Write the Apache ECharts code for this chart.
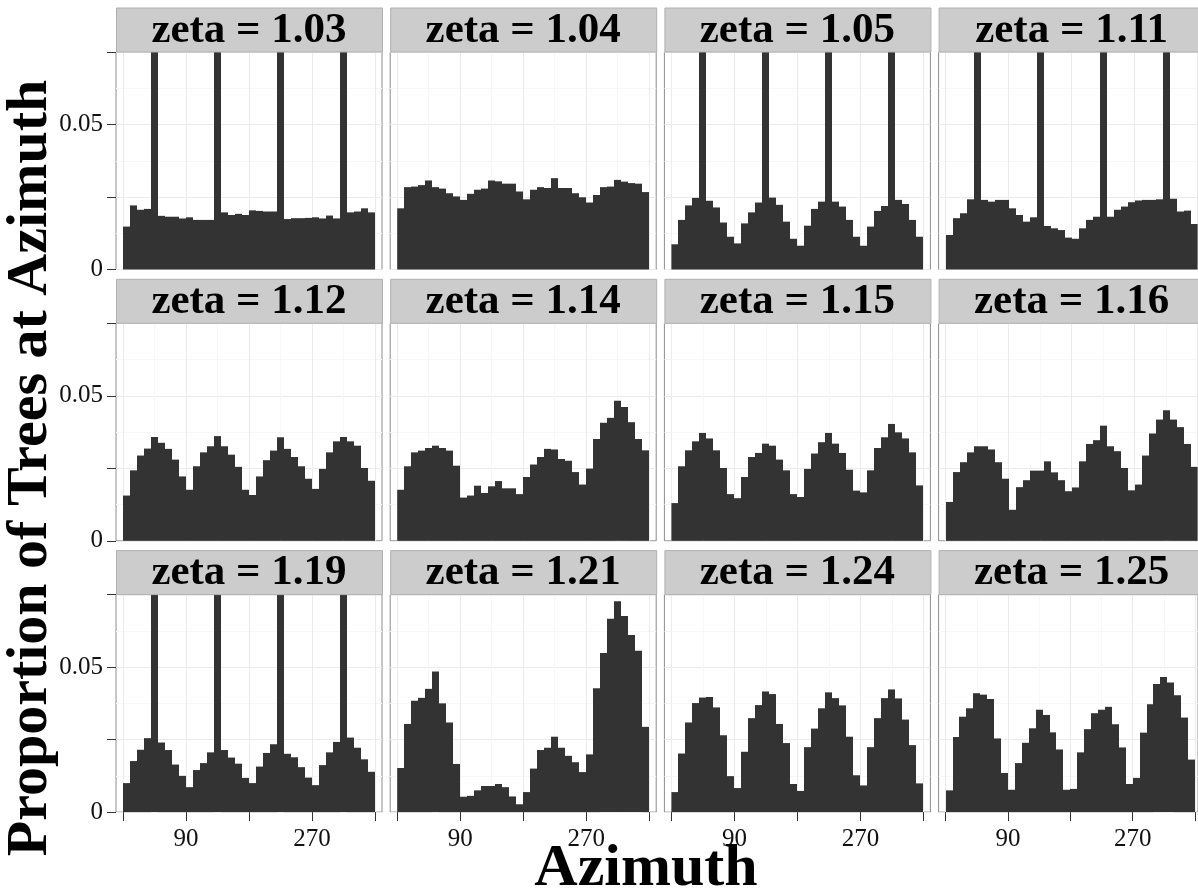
<!DOCTYPE html>
<html>
<head>
<meta charset="utf-8">
<script src="https://cdn.jsdelivr.net/npm/echarts@6/dist/echarts.min.js"></script>
<style>
html,body{margin:0;padding:0;background:#ffffff;}
#chart{width:1198px;height:894px;}
</style>
</head>
<body>
<div id="chart"></div>
<script>
// ---- data (proportion of trees per 10-degree azimuth bin, 36 bins from 0 to 360) ----
const zetaLabels = ['1.03','1.04','1.05','1.11','1.12','1.14','1.15','1.16','1.19','1.21','1.24','1.25'];
const binWidth = 10;
const xTickValues = [0, 90, 180, 270, 360];
const xLabelValues = [90, 270];
const yLabelValues = [0, 0.05];

const zeta103 = [0.0148,0.0221,0.0206,0.0209,0.1,0.0185,0.0182,0.0182,0.0176,0.018,0.0171,0.0171,0.0171,0.1,0.0197,0.0188,0.0192,0.0188,0.0204,0.0202,0.02,0.02,0.1,0.0174,0.0177,0.0177,0.0178,0.018,0.0176,0.0186,0.0176,0.1,0.0197,0.02,0.0211,0.0197];
const zeta104 = [0.0211,0.0284,0.0286,0.0291,0.0307,0.0284,0.0279,0.0263,0.0252,0.024,0.0261,0.0275,0.0279,0.0307,0.0304,0.0296,0.0296,0.0269,0.0242,0.0275,0.0284,0.0281,0.0315,0.0281,0.0281,0.0263,0.0249,0.0231,0.0257,0.0284,0.0286,0.0309,0.0303,0.0298,0.0296,0.0267];
const zeta105 = [0.0087,0.0171,0.0221,0.0247,0.1,0.0237,0.0214,0.0162,0.0113,0.009,0.0159,0.0197,0.0231,0.1,0.0248,0.0223,0.0165,0.0106,0.0082,0.0151,0.0209,0.0234,0.1,0.0234,0.0217,0.0171,0.0113,0.0082,0.0148,0.0202,0.0219,0.1,0.024,0.0226,0.0171,0.0113];
const zeta111 = [0.0119,0.0177,0.0194,0.0242,0.1,0.024,0.0234,0.024,0.024,0.0211,0.0188,0.0165,0.018,0.1,0.015,0.0142,0.0136,0.011,0.0106,0.0142,0.0171,0.0182,0.1,0.0182,0.0206,0.0217,0.0232,0.0238,0.024,0.024,0.0242,0.1,0.0244,0.02,0.0203,0.0157];
const zeta112 = [0.0156,0.0243,0.0294,0.0318,0.0358,0.0338,0.0317,0.028,0.0222,0.0176,0.0257,0.0305,0.0326,0.0361,0.0326,0.0297,0.0255,0.0176,0.0158,0.0222,0.0278,0.0311,0.0357,0.0317,0.0289,0.0257,0.0214,0.0179,0.0248,0.0305,0.0343,0.0358,0.0343,0.0328,0.0251,0.0207];
const zeta114 = [0.0176,0.0257,0.0305,0.0311,0.032,0.0328,0.032,0.0311,0.0259,0.0149,0.0156,0.019,0.0165,0.0188,0.0206,0.0181,0.0181,0.0161,0.022,0.0263,0.0289,0.0317,0.0315,0.0282,0.0276,0.0237,0.0194,0.0249,0.0351,0.0407,0.0424,0.0483,0.0461,0.0409,0.0351,0.0312];
const zeta115 = [0.013,0.0257,0.0312,0.0343,0.0372,0.0353,0.0312,0.0251,0.0161,0.0147,0.022,0.0289,0.0303,0.0335,0.0328,0.028,0.0243,0.0161,0.0151,0.0248,0.0301,0.034,0.0372,0.0335,0.0303,0.0245,0.0173,0.0167,0.0243,0.032,0.0357,0.0403,0.0374,0.0353,0.0305,0.0191];
const zeta116 = [0.0134,0.0237,0.0271,0.0305,0.0326,0.0326,0.0315,0.0271,0.0214,0.0107,0.0185,0.0209,0.0242,0.0242,0.0274,0.0236,0.0209,0.0171,0.0184,0.0274,0.0334,0.0347,0.0397,0.0326,0.0309,0.0251,0.0174,0.0194,0.0294,0.037,0.0418,0.045,0.0418,0.0392,0.0334,0.0255];
const zeta119 = [0.01,0.0176,0.0215,0.0255,0.1,0.024,0.0214,0.0164,0.0125,0.0086,0.0145,0.0169,0.0206,0.1,0.0214,0.0188,0.0167,0.0118,0.01,0.0157,0.0204,0.0234,0.1,0.0201,0.0189,0.0155,0.0119,0.0093,0.0162,0.0206,0.0242,0.1,0.0257,0.0222,0.0182,0.0139];
const zeta121 = [0.0152,0.0304,0.0384,0.0394,0.0425,0.0485,0.0375,0.0309,0.0166,0.0053,0.0056,0.0075,0.009,0.009,0.0097,0.0086,0.0054,0.0027,0.0069,0.015,0.0214,0.0222,0.026,0.0222,0.0194,0.0172,0.0138,0.0199,0.0427,0.0549,0.0667,0.0727,0.0676,0.0611,0.0556,0.0294];
const zeta124 = [0.0069,0.0202,0.0309,0.0376,0.0395,0.0397,0.0361,0.0265,0.0124,0.0083,0.0208,0.0324,0.0369,0.0416,0.0407,0.0304,0.0238,0.0097,0.0073,0.0224,0.0288,0.0358,0.0413,0.0393,0.0368,0.026,0.0127,0.0092,0.0224,0.0324,0.0393,0.0423,0.0392,0.0319,0.0231,0.0099];
const zeta125 = [0.0075,0.0259,0.0329,0.0358,0.041,0.0405,0.039,0.0254,0.0135,0.0077,0.0169,0.0239,0.0289,0.0353,0.0335,0.0275,0.0216,0.0077,0.008,0.0206,0.0286,0.0341,0.0353,0.0363,0.0303,0.0223,0.0097,0.0118,0.0274,0.0372,0.0442,0.0466,0.0447,0.0403,0.0326,0.0181];

const panelValues = [zeta103, zeta104, zeta105, zeta111, zeta112, zeta114, zeta115, zeta116, zeta119, zeta121, zeta124, zeta125];

// ---- layout ----
const FONT = "'Liberation Serif','Times New Roman',serif";
const LAY = {left0: 116, colStep: 274.2, width: 266, pad: 7, top0: 52, rowStep: 271.3, height: 217.5, stripH: 44.5};
const Y_MAX = 0.075;

const chart = echarts.init(document.getElementById('chart'), null, {renderer: 'canvas'});

function near(v, list) { return list.some(t => Math.abs(t - v) < 1e-9); }

function renderBar(params, api) {
  const x0 = api.value(0), x1 = api.value(1), v = api.value(2);
  const pTop = api.coord([x0, v]);
  const pBot = api.coord([x1, 0]);
  const xa = Math.round(pTop[0]), xb = Math.round(pBot[0]);
  const rect = echarts.graphic.clipRectByRect(
    {x: xa, y: pTop[1], width: xb - xa, height: pBot[1] - pTop[1]},
    {x: params.coordSys.x, y: params.coordSys.y, width: params.coordSys.width, height: params.coordSys.height}
  );
  if (!rect) return;
  return {type: 'rect', shape: rect, style: {fill: '#333333'}};
}

const grids = [], xAxes = [], yAxes = [], series = [], graphics = [];

panelValues.forEach((vals, i) => {
  const r = Math.floor(i / 4), c = i % 4;
  const left = LAY.left0 + c * LAY.colStep;
  const top = LAY.top0 + r * LAY.rowStep;
  const gOuter = grids.length;
  // outer panel (border, horizontal grid lines, y axis)
  grids.push({left: left, top: top, width: LAY.width, height: LAY.height, show: true,
    borderColor: '#8c8c8c', borderWidth: 1, backgroundColor: 'transparent'});
  xAxes.push({gridIndex: gOuter, type: 'value', min: 0, max: 1, show: false});
  yAxes.push({gridIndex: gOuter, type: 'value', min: 0, max: Y_MAX, interval: 0.025,
    axisLine: {show: false},
    axisTick: {show: c === 0, length: 9, lineStyle: {color: '#333333', width: 1}},
    axisLabel: {show: c === 0, margin: 13, color: '#111111', fontFamily: FONT, fontSize: 25,
      formatter: v => near(v, yLabelValues) ? String(+v.toFixed(3)) : ''},
    splitLine: {show: true, lineStyle: {color: '#ebebeb', width: 1}},
    minorTick: {show: false, splitNumber: 2},
    minorSplitLine: {show: true, lineStyle: {color: '#f7f7f7', width: 1}}
  });
  // inner data grid (azimuth 0..360)
  const gInner = grids.length;
  grids.push({left: left + LAY.pad, top: top, width: LAY.width - 2 * LAY.pad, height: LAY.height});
  xAxes.push({gridIndex: gInner, type: 'value', min: xTickValues[0], max: xTickValues[xTickValues.length - 1], interval: 90,
    position: 'bottom',
    axisLine: {show: false},
    axisTick: {show: r === 2, length: 9, lineStyle: {color: '#333333', width: 1}},
    axisLabel: {show: r === 2, margin: 15, color: '#111111', fontFamily: FONT, fontSize: 25,
      formatter: v => near(v, xLabelValues) ? String(v) : ''},
    splitLine: {show: true, lineStyle: {color: '#ebebeb', width: 1}},
    minorTick: {show: false, splitNumber: 2},
    minorSplitLine: {show: true, lineStyle: {color: '#f7f7f7', width: 1}}
  });
  yAxes.push({gridIndex: gInner, type: 'value', min: 0, max: Y_MAX, show: false});
  series.push({
    type: 'custom', name: 'zeta = ' + zetaLabels[i],
    xAxisIndex: gInner, yAxisIndex: gInner,
    renderItem: renderBar, z: 3,
    encode: {x: [0, 1], y: 2},
    data: vals.map((v, k) => [k * binWidth, (k + 1) * binWidth, v])
  });
  // facet strip
  graphics.push({type: 'rect', z: 10,
    shape: {x: left + 0.5, y: top - LAY.stripH + 0.5, width: LAY.width, height: LAY.stripH - 0.5},
    style: {fill: '#cccccc', stroke: '#b0b0b0', lineWidth: 1}});
  graphics.push({type: 'text', z: 11, x: left + LAY.width / 2, y: top - LAY.stripH / 2 + 1,
    style: {text: 'zeta = ' + zetaLabels[i], font: 'bold 43px ' + FONT, fill: '#000000',
      align: 'center', verticalAlign: 'middle'}});
});

graphics.push({type: 'text', z: 11, x: 646, y: 869,
  style: {text: 'Azimuth', font: 'bold 60px ' + FONT, fill: '#000000', align: 'center', verticalAlign: 'middle'}});
graphics.push({type: 'text', z: 11, x: 31, y: 468, rotation: Math.PI / 2,
  style: {text: 'Proportion of Trees at Azimuth', font: 'bold 58px ' + FONT, fill: '#000000', align: 'center', verticalAlign: 'middle'}});

chart.setOption({
  animation: false,
  backgroundColor: '#ffffff',
  grid: grids,
  xAxis: xAxes,
  yAxis: yAxes,
  series: series,
  graphic: graphics
});
</script>
</body>
</html>
